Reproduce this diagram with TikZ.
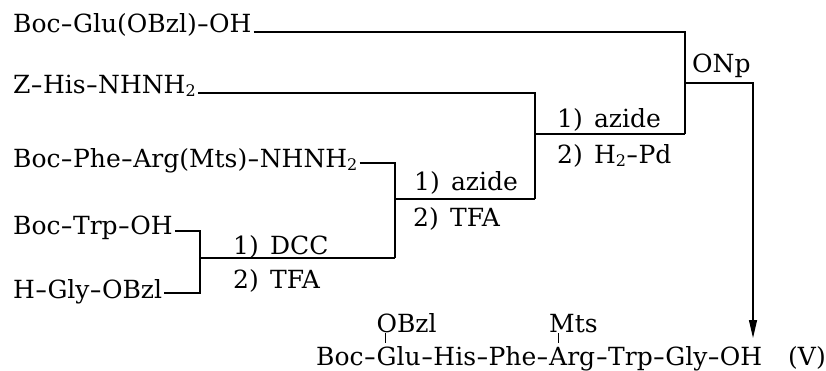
\documentclass[tikz,border=0pt]{standalone}
\usepackage{fontspec}
\usepackage{graphicx}
\setmainfont{DejaVu Serif}
\usetikzlibrary{arrows.meta,calc}
\newcommand\subtwo{\raisebox{-3pt}{\fontsize{16}{16}\selectfont 2}}
\newcommand\hy{\makebox[0.5em][c]{\scalebox{1.45}[1]{-}}}
\begin{document}
\begin{tikzpicture}[x=1pt,y=-1pt,
  txt/.style={inner sep=0pt, anchor=base west, font=\fontsize{25}{28}\selectfont},
  bond/.style={line width=1.25pt},
  tick/.style={line width=0.9pt},
  arr/.style={bond,-{Triangle[length=18pt,width=8pt]}}]
\useasboundingbox (0,0) rectangle (826,371);
% starting materials
\node[txt] (glu) at (13,33) {Boc\hy Glu(OBzl)\hy OH};
\node[txt] (his) at (13,94) {Z\hy His\hy NHNH\subtwo};
\node[txt] (phe) at (13,168) {Boc\hy Phe\hy Arg(Mts)\hy NHNH\subtwo};
\node[txt] (trp) at (13,234) {Boc\hy Trp\hy OH};
\node[txt] (gly) at (13,298) {H\hy Gly\hy OBzl};
\coordinate (gluE) at ([xshift=2pt]glu.east);
\coordinate (hisE) at ([xshift=2pt]his.east);
\coordinate (pheE) at ([xshift=2pt]phe.east);
\coordinate (trpE) at ([xshift=2pt]trp.east);
\coordinate (glyE) at ([xshift=2pt]gly.east);
% junction points
\coordinate (A1) at (685,32);
\coordinate (A2) at (685,134);
\coordinate (B1) at (535,93);
\coordinate (B2) at (535,199);
\coordinate (C1) at (395,163);
\coordinate (C2) at (395,258);
\coordinate (D1) at (200,231);
\coordinate (D2) at (200,293);
\coordinate (E1) at (685,83);
\coordinate (E2) at (753,83);
\coordinate (E3) at (753,338);
% connectors
\draw[bond] (gluE |- A1) -- (A1) -- (A2);
\draw[bond] (hisE |- B1) -- (B1) -- (B2);
\draw[bond] (B1 |- A2) -- (A2);
\draw[bond] (pheE |- C1) -- (C1) -- (C2);
\draw[bond] (C1 |- B2) -- (B2);
\draw[bond] (trpE |- D1) -- (D1) -- (D2) -- (glyE |- D2);
\draw[bond] (D1 |- C2) -- (C2);
\draw[arr] (E1) -- (E2) -- (E3);
% reagents
\node[txt] (r1a) at (233,254) {1)\hspace{0.45em}DCC};
\node[txt] (r1b) at (233,288) {2)\hspace{0.45em}TFA};
\node[txt] (r2a) at (414,191) {1)\hspace{0.45em}azide};
\node[txt] (r2b) at (413,226) {2)\hspace{0.45em}TFA};
\node[txt] (r3a) at (557,128) {1)\hspace{0.45em}azide};
\node[txt] (r3b) at (557,164) {2)\hspace{0.45em}H\subtwo\hy Pd};
\node[txt] (onp) at (692,73) {ONp};
% product
\node[txt] (p1) at (316,365) {Boc\hy};
\node[txt] (p2) at (p1.base east) {Glu};
\node[txt] (p3) at (p2.base east) {\hy His\hy Phe\hy};
\node[txt] (p4) at (p3.base east) {Arg};
\node[txt] (p5) at (p4.base east) {\hy Trp\hy Gly\hy OH};
\node[txt] (pv) at (788,365) {(V)};
\node[txt] (obzl) at ($(p2.base west)+(0,-33)$) {OBzl};
\node[txt] (mts) at ($(p4.base west)+(0,-33)$) {Mts};
\draw[tick] ($(obzl.base west)+(9,1)$) -- ($(p2.base west)+(9,-22)$);
\draw[tick] ($(mts.base west)+(9,1)$) -- ($(p4.base west)+(9,-22)$);
\end{tikzpicture}
\end{document}
